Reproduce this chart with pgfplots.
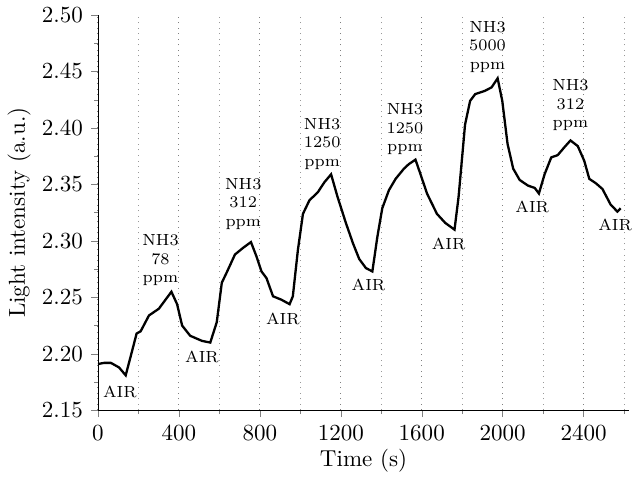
\documentclass[border=0pt]{standalone}
\usepackage{pgfplots}
\pgfplotsset{compat=1.18}
\begin{document}
\begin{tikzpicture}
\begin{axis}[
    width=230.5pt, height=171.5pt, scale only axis,
    xmin=0, xmax=2625, ymin=2.15, ymax=2.50,
    axis lines=left, axis line style={-},
    tick align=outside,
    major tick length=3pt, minor tick length=1.7pt,
    xtick={0,400,...,2400}, minor xtick={200,600,...,2400},
    ytick={2.15,2.20,...,2.51}, minor y tick num=1,
    xticklabel style={/pgf/number format/1000 sep={}},
    yticklabel style={/pgf/number format/fixed, /pgf/number format/fixed zerofill, /pgf/number format/precision=2},
    xmajorgrids, xminorgrids,
    major grid style={gray, dotted, line width=0.5pt},
    minor grid style={gray!80, dotted, line width=0.5pt},
    xlabel={Time (s)}, ylabel={Light intensity (a.u.)},
    xlabel style={yshift=3pt}, ylabel style={yshift=-2pt},
    clip=false
]
\addplot[black, line width=1pt] coordinates {
(0,2.191) (30,2.192) (64,2.192) (104,2.188) (137,2.181) (162,2.198) (191,2.218)
(211,2.220) (252,2.234) (301,2.240) (334,2.248) (363,2.255) (391,2.244) (416,2.225)
(456,2.216) (514,2.2115) (555,2.210) (587,2.228) (612,2.263) (636,2.272) (677,2.288)
(718,2.294) (756,2.299) (784,2.286) (808,2.273) (833,2.267) (865,2.251) (906,2.248)
(947,2.244) (963,2.251) (988,2.292) (1013,2.324) (1045,2.336) (1086,2.343) (1119,2.352)
(1152,2.359) (1184,2.339) (1225,2.316) (1260,2.298) (1291,2.284) (1324,2.276) (1356,2.273)
(1381,2.304) (1405,2.329) (1438,2.345) (1471,2.355) (1512,2.364) (1536,2.368) (1569,2.372)
(1594,2.359) (1626,2.342) (1675,2.324) (1716,2.316) (1762,2.310) (1782,2.339) (1814,2.403)
(1839,2.424) (1864,2.430) (1913,2.433) (1945,2.436) (1975,2.444) (1998,2.424) (2024,2.386)
(2052,2.364) (2084,2.354) (2125,2.349) (2158,2.347) (2179,2.342) (2207,2.359) (2240,2.374)
(2272,2.376) (2305,2.383) (2335,2.389) (2371,2.384) (2403,2.371) (2428,2.355) (2461,2.351)
(2493,2.346) (2534,2.332) (2567,2.326) (2583,2.329)
};
\begin{scope}[every node/.style={font=\scriptsize, align=center, inner sep=0pt}]
\node at (axis cs:309,2.283) {NH3\\78\\ppm};
\node at (axis cs:718,2.333) {NH3\\312\\ppm};
\node at (axis cs:1108,2.386) {NH3\\1250\\ppm};
\node at (axis cs:1517,2.399) {NH3\\1250\\ppm};
\node at (axis cs:1925,2.472) {NH3\\5000\\ppm};
\node at (axis cs:2335,2.420) {NH3\\312\\ppm};
\node at (axis cs:108,2.166) {AIR};
\node at (axis cs:514,2.197) {AIR};
\node at (axis cs:914,2.231) {AIR};
\node at (axis cs:1337,2.261) {AIR};
\node at (axis cs:1733,2.297) {AIR};
\node at (axis cs:2146,2.330) {AIR};
\node at (axis cs:2556,2.314) {AIR};
\end{scope}
\end{axis}
\end{tikzpicture}
\end{document}
